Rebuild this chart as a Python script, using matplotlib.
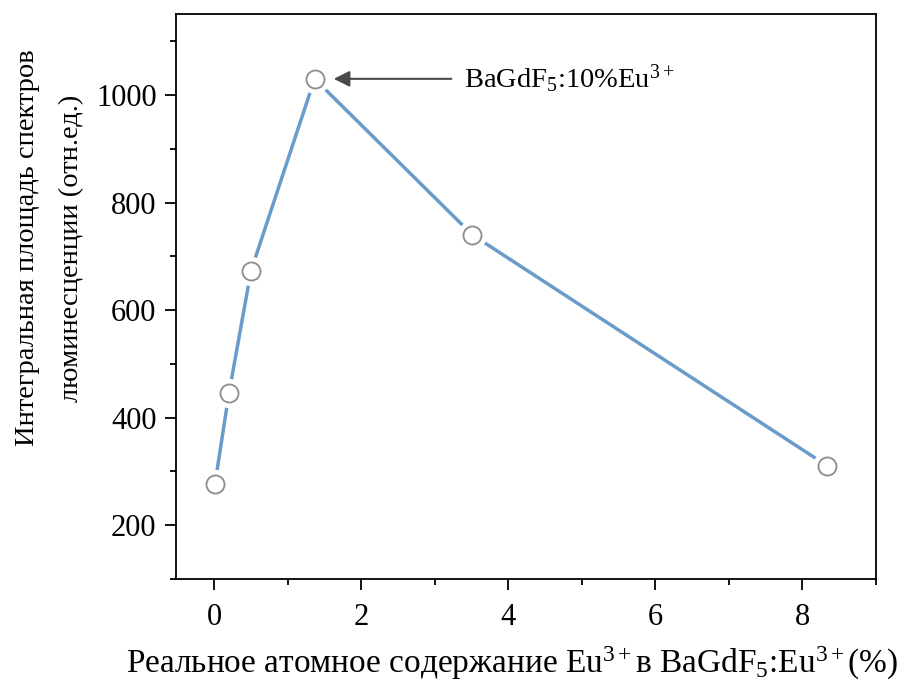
import matplotlib

matplotlib.use("Agg")
import matplotlib.pyplot as plt
from matplotlib.ticker import MultipleLocator

# - Data

eu_content = [0.01, 0.20, 0.50, 1.365, 3.51, 8.33]
integral_area = [277, 445, 673, 1030, 740, 311]

x_ticks = [0, 2, 4, 6, 8]
y_ticks = [200, 400, 600, 800, 1000]

peak_label = r"BaGdF$_\mathrm{5}$:10%Eu$^\mathrm{3+}$"
x_label = r"Реальное атомное содержание Eu$^\mathrm{3+}$в BaGdF$_\mathrm{5}$:Eu$^\mathrm{3+}$(%)"
y_label_lines = ["Интегральная площадь спектров", "люминесценции (отн.ед.)"]

# - Style

plt.rcParams["font.family"] = ["Liberation Serif", "DejaVu Serif"]
plt.rcParams["mathtext.fontset"] = "custom"
plt.rcParams["mathtext.rm"] = "Liberation Serif"
plt.rcParams["mathtext.it"] = "Liberation Serif:italic"

line_color = "#6a9bc9"
edge_color = "#8c8c8c"

fig = plt.figure(figsize=(9.2, 6.88), dpi=100)
ax = fig.add_axes([176 / 920, 1 - 579 / 688, 700 / 920, (579 - 14.3) / 688])

# - Line with gaps around markers (white mask markers)

ax.plot(eu_content, integral_area, color=line_color, lw=2.5, zorder=2)
ax.plot(eu_content, integral_area, ls="none", marker="o", ms=20, mfc="white", mec="white", zorder=3)
ax.plot(eu_content, integral_area, ls="none", marker="o", ms=13, mfc="white", mec=edge_color, mew=1.3, zorder=4)

# - Annotation

peak = integral_area.index(max(integral_area))
ax.annotate(
    peak_label,
    xy=(eu_content[peak] + 0.26, integral_area[peak]),
    xytext=(eu_content[peak] + 2.03, integral_area[peak]),
    ha="left",
    va="center",
    fontsize=20.5,
    arrowprops=dict(arrowstyle="-|>", color="#4a4a4a", lw=1.5, mutation_scale=24, shrinkA=7, shrinkB=0),
)

# - Axes

ax.set_xlim(-0.52, 9)
ax.set_ylim(100, 1150)
ax.set_xticks(x_ticks)
ax.set_yticks(y_ticks)
ax.xaxis.set_minor_locator(MultipleLocator(1))
ax.yaxis.set_minor_locator(MultipleLocator(100))
ax.tick_params(which="both", direction="out", width=1.3, labelsize=22, top=False, right=False)
ax.tick_params(which="major", length=8)
ax.tick_params(which="minor", length=4)
ax.tick_params(axis="x", pad=9)
ax.tick_params(axis="y", pad=6)
for spine in ax.spines.values():
    spine.set_linewidth(1.3)

fig.text(512 / 920, 1 - 663 / 688, x_label, ha="center", va="center", fontsize=24)
for x_px, line in zip([28, 72], y_label_lines):
    fig.text(x_px / 920, 1 - 248 / 688, line, ha="center", va="center", rotation=90, fontsize=20.5)

plt.savefig("out.png", dpi=100)
